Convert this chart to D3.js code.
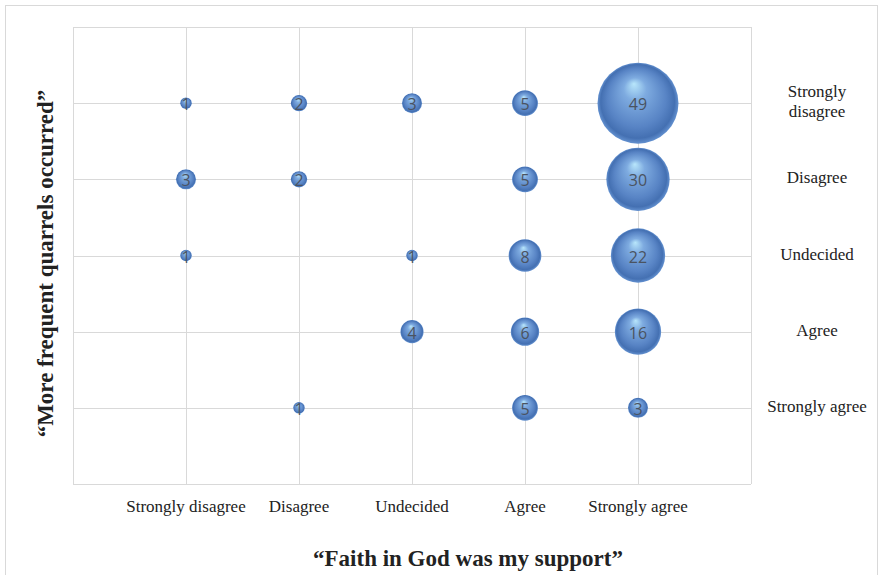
<!DOCTYPE html>
<html>
<head>
<meta charset="utf-8">
<script src="https://cdn.jsdelivr.net/npm/d3@7"></script>
<style>
  html, body { margin: 0; padding: 0; background: #fff; }
  svg { display: block; }
</style>
</head>
<body>
<svg id="chart" width="879" height="575"></svg>
<script>
// Likert categories shared by both axes
const faithLevels = ["Strongly disagree", "Disagree", "Undecided", "Agree", "Strongly agree"];
const quarrelLevels = ["Strongly disagree", "Disagree", "Undecided", "Agree", "Strongly agree"];

// Counts per cell: faith response (x) × quarrel response (y)
const faithIndex   = [0, 1, 2, 3, 4,   0, 1, 3, 4,   0, 2, 3, 4,   2, 3, 4,   1, 3, 4];
const quarrelIndex = [0, 0, 0, 0, 0,   1, 1, 1, 1,   2, 2, 2, 2,   3, 3, 3,   4, 4, 4];
const counts       = [1, 2, 3, 5, 49,  3, 2, 5, 30,  1, 1, 8, 22,  4, 6, 16,  1, 5, 3];

const xTitle = "\u201CFaith in God was my support\u201D";
const yTitle = "\u201CMore frequent quarrels occurred\u201D";

const cells = counts.map((v, i) => ({ x: faithIndex[i] + 1, y: 5 - quarrelIndex[i], v }));

const svg = d3.select("#chart");
const W = 879, H = 575;
const plot = { left: 73, top: 27, right: 751, bottom: 484 };
const serif = "'Liberation Serif', 'Times New Roman', serif";

// outer chart frame
svg.append("rect")
  .attr("x", 5.5).attr("y", 5.5)
  .attr("width", W - 7).attr("height", H + 10)
  .attr("fill", "#fff").attr("stroke", "#d9d9d9").attr("stroke-width", 1);

const x = d3.scaleLinear().domain([0, 6]).range([plot.left, plot.right]);
const y = d3.scaleLinear().domain([0, 6]).range([plot.bottom, plot.top]);
const r = d3.scaleSqrt().domain([0, 49]).range([0, 40.5]);

// gridlines
const grid = svg.append("g").attr("stroke", "#d9d9d9").attr("stroke-width", 1);
grid.selectAll("line.v").data(d3.range(0, 7)).join("line")
  .attr("x1", d => Math.round(x(d)) + 0.5).attr("x2", d => Math.round(x(d)) + 0.5)
  .attr("y1", plot.top).attr("y2", plot.bottom);
grid.selectAll("line.h").data(d3.range(0, 7)).join("line")
  .attr("y1", d => Math.round(y(d)) + 0.5).attr("y2", d => Math.round(y(d)) + 0.5)
  .attr("x1", plot.left).attr("x2", plot.right);

// shaded sphere fill
const defs = svg.append("defs");
const grad = defs.append("radialGradient")
  .attr("id", "sphere")
  .attr("cx", "50%").attr("cy", "50%").attr("r", "50%")
  .attr("fx", "45%").attr("fy", "26%");
grad.append("stop").attr("offset", "0%").attr("stop-color", "#b8e6fb");
grad.append("stop").attr("offset", "28%").attr("stop-color", "#7eabe0");
grad.append("stop").attr("offset", "72%").attr("stop-color", "#5884c5");
grad.append("stop").attr("offset", "91%").attr("stop-color", "#4470b2");
grad.append("stop").attr("offset", "100%").attr("stop-color", "#6391d0");

const bubbles = svg.append("g");
bubbles.selectAll("circle").data(cells).join("circle")
  .attr("cx", d => x(d.x)).attr("cy", d => y(d.y))
  .attr("r", d => r(d.v))
  .attr("fill", "url(#sphere)");

bubbles.selectAll("text").data(cells).join("text")
  .attr("x", d => x(d.x)).attr("y", d => y(d.y) + 1)
  .attr("text-anchor", "middle").attr("dominant-baseline", "central")
  .attr("font-family", "'Open Sans', 'Liberation Sans', Arial, sans-serif")
  .attr("font-size", 16)
  .attr("fill", "#4a5361")
  .text(d => d.v);

// x tick labels
svg.append("g").selectAll("text").data(faithLevels).join("text")
  .attr("x", (d, i) => x(i + 1)).attr("y", 512)
  .attr("text-anchor", "middle")
  .attr("font-family", serif)
  .attr("font-size", 17).attr("fill", "#222")
  .text(d => d);

// y tick labels on the right; long label wraps onto two lines
const yLab = svg.append("g").selectAll("text").data(quarrelLevels).join("text")
  .attr("x", 817)
  .attr("y", (d, i) => y(5 - i))
  .attr("text-anchor", "middle")
  .attr("font-family", serif)
  .attr("font-size", 17).attr("fill", "#222");
yLab.each(function (d) {
  const t = d3.select(this);
  const words = d === "Strongly disagree" ? ["Strongly", "disagree"] : [d];
  const lh = 20;
  const start = -(words.length - 1) * lh / 2 + 4;
  words.forEach((w, k) => {
    t.append("tspan").attr("x", 817).attr("dy", k === 0 ? start : lh).text(w);
  });
});

// axis titles
svg.append("text")
  .attr("x", 468).attr("y", 566)
  .attr("text-anchor", "middle")
  .attr("font-family", serif)
  .attr("font-weight", "bold").attr("font-size", 23).attr("fill", "#222")
  .text(xTitle);

svg.append("text")
  .attr("transform", `translate(53,${(plot.top + plot.bottom) / 2 + 8}) rotate(-90)`)
  .attr("text-anchor", "middle")
  .attr("font-family", serif)
  .attr("font-weight", "bold").attr("font-size", 23).attr("fill", "#222")
  .text(yTitle);
</script>
</body>
</html>
